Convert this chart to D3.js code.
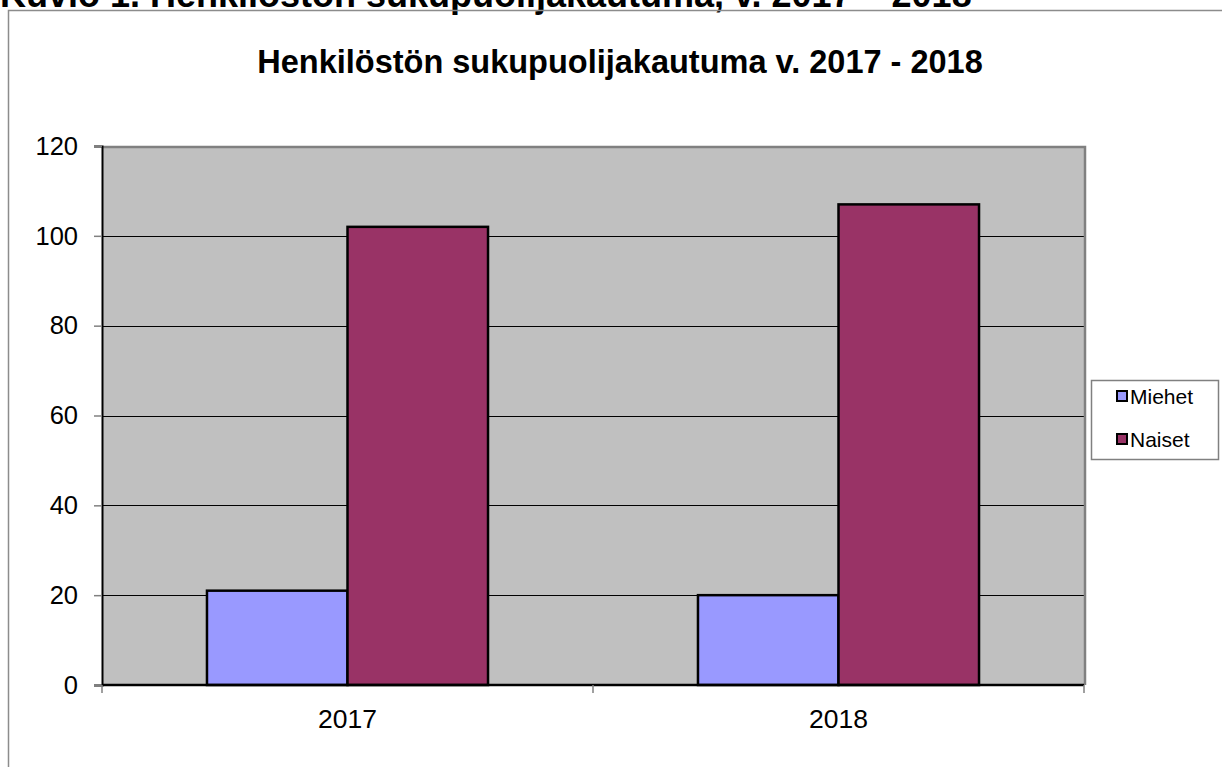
<!DOCTYPE html>
<html>
<head>
<meta charset="utf-8">
<script src="https://cdn.jsdelivr.net/npm/d3@7"></script>
<style>
  body { margin: 0; background: #fff; }
  text { font-family: "Liberation Sans", Arial, sans-serif; }
</style>
</head>
<body>
<div id="graphic"></div>
<script>
// data
const years = ["2017", "2018"];
const series = ["Miehet", "Naiset"];
const miehet = [21, 20];
const naiset = [102, 107];
const yTicks = [0, 20, 40, 60, 80, 100, 120];
const colors = ["#9999ff", "#993366"];

const W = 1222, H = 767;
// plot area
const plot = {left: 102, top: 146, right: 1084, bottom: 685};

const svg = d3.select("#graphic")
    .append("svg")
    .attr("width", W)
    .attr("height", H);

// caption above the chart (cut off at the top)
svg.append("text")
    .attr("x", 0)
    .attr("y", 7)
    .style("font-size", "36px")
    .style("font-weight", "bold")
    .text("Kuvio 1. Henkilöstön sukupuolijakautuma, v. 2017 – 2018");

// outer chart frame
svg.append("rect")
    .attr("x", 8.5)
    .attr("y", 10.5)
    .attr("width", W + 20)
    .attr("height", H + 20)
    .attr("fill", "none")
    .attr("stroke", "#8c8c8c")
    .attr("stroke-width", 1.5);

// title
svg.append("text")
    .attr("x", 620)
    .attr("y", 73)
    .attr("text-anchor", "middle")
    .style("font-size", "32.5px")
    .style("font-weight", "bold")
    .text("Henkilöstön sukupuolijakautuma v. 2017 - 2018");

const x0 = d3.scaleBand()
    .domain(years)
    .range([plot.left, plot.right])
    .padding(0);

const x1 = d3.scaleBand()
    .domain(series)
    .range([0, x0.bandwidth()])
    .paddingInner(0)
    .paddingOuter(0.747);

const y = d3.scaleLinear()
    .domain([0, 120])
    .range([plot.bottom, plot.top]);

// plot background
svg.append("rect")
    .attr("x", plot.left)
    .attr("y", plot.top)
    .attr("width", plot.right - plot.left)
    .attr("height", plot.bottom - plot.top)
    .attr("fill", "#c0c0c0");

// gridlines
svg.append("g")
    .selectAll("line")
    .data(yTicks.slice(1))
    .enter().append("line")
        .attr("x1", plot.left)
        .attr("x2", plot.right)
        .attr("y1", d => Math.round(y(d)) + 0.5)
        .attr("y2", d => Math.round(y(d)) + 0.5)
        .attr("stroke", "#000")
        .attr("stroke-width", 1);

// top and right border of the plot area
svg.append("path")
    .attr("d", `M${plot.left},${plot.top + 1}H${plot.right + 1}V${plot.bottom}`)
    .attr("fill", "none")
    .attr("stroke", "#808080")
    .attr("stroke-width", 2.5);

// bars
const data = years.map((yr, i) => ({year: yr, values: [miehet[i], naiset[i]]}));

const groups = svg.append("g")
    .selectAll("g")
    .data(data)
    .enter().append("g")
        .attr("transform", d => `translate(${x0(d.year)},0)`);

groups.selectAll("rect")
    .data(d => d.values.map((v, j) => ({key: series[j], value: v, j: j})))
    .enter().append("rect")
        .attr("x", d => x1(d.key))
        .attr("y", d => y(d.value))
        .attr("width", x1.bandwidth())
        .attr("height", d => y(0) - y(d.value))
        .attr("fill", d => colors[d.j])
        .attr("stroke", "#000")
        .attr("stroke-width", 2.5);

// y axis
const yAxis = svg.append("g")
    .attr("transform", `translate(${plot.left},0)`)
    .call(d3.axisLeft(y).tickValues(yTicks).tickSize(8).tickPadding(16));
yAxis.select(".domain").attr("stroke", "#000").attr("stroke-width", 2);
yAxis.selectAll(".tick line").attr("stroke", "#808080").attr("stroke-width", 1.5);
yAxis.selectAll("text")
    .style("font-size", "25.5px")
    .attr("fill", "#000");

// x axis (ticks at category boundaries)
const xAxis = svg.append("g")
    .attr("transform", `translate(0,${plot.bottom})`);
xAxis.append("line")
    .attr("x1", plot.left)
    .attr("x2", plot.right)
    .attr("stroke", "#000")
    .attr("stroke-width", 2.5);
xAxis.selectAll(".xtick")
    .data([...years.map(d => x0(d)), plot.right])
    .enter().append("line")
        .attr("class", "xtick")
        .attr("x1", d => d)
        .attr("x2", d => d)
        .attr("y1", 0)
        .attr("y2", 8)
        .attr("stroke", "#808080")
        .attr("stroke-width", 1.5);
xAxis.selectAll(".xlabel")
    .data(years)
    .enter().append("text")
        .attr("class", "xlabel")
        .attr("x", d => x0(d) + x0.bandwidth() / 2)
        .attr("y", 43)
        .attr("text-anchor", "middle")
        .style("font-size", "26.5px")
        .text(d => d);

// legend
const legend = svg.append("g")
    .attr("transform", "translate(1091,380)");
legend.append("rect")
    .attr("x", 0.5)
    .attr("y", 0.5)
    .attr("width", 127)
    .attr("height", 79)
    .attr("fill", "#fff")
    .attr("stroke", "#808080")
    .attr("stroke-width", 1.5);

const item = legend.selectAll(".item")
    .data(series)
    .enter().append("g")
        .attr("class", "item")
        .attr("transform", (d, i) => `translate(0,${16 + i * 43})`);
item.append("rect")
    .attr("x", 26)
    .attr("y", -5)
    .attr("width", 10)
    .attr("height", 10)
    .attr("fill", (d, i) => colors[i])
    .attr("stroke", "#000")
    .attr("stroke-width", 2);
item.append("text")
    .attr("x", 39)
    .attr("y", 8)
    .style("font-size", "21px")
    .text(d => d);
</script>
</body>
</html>
